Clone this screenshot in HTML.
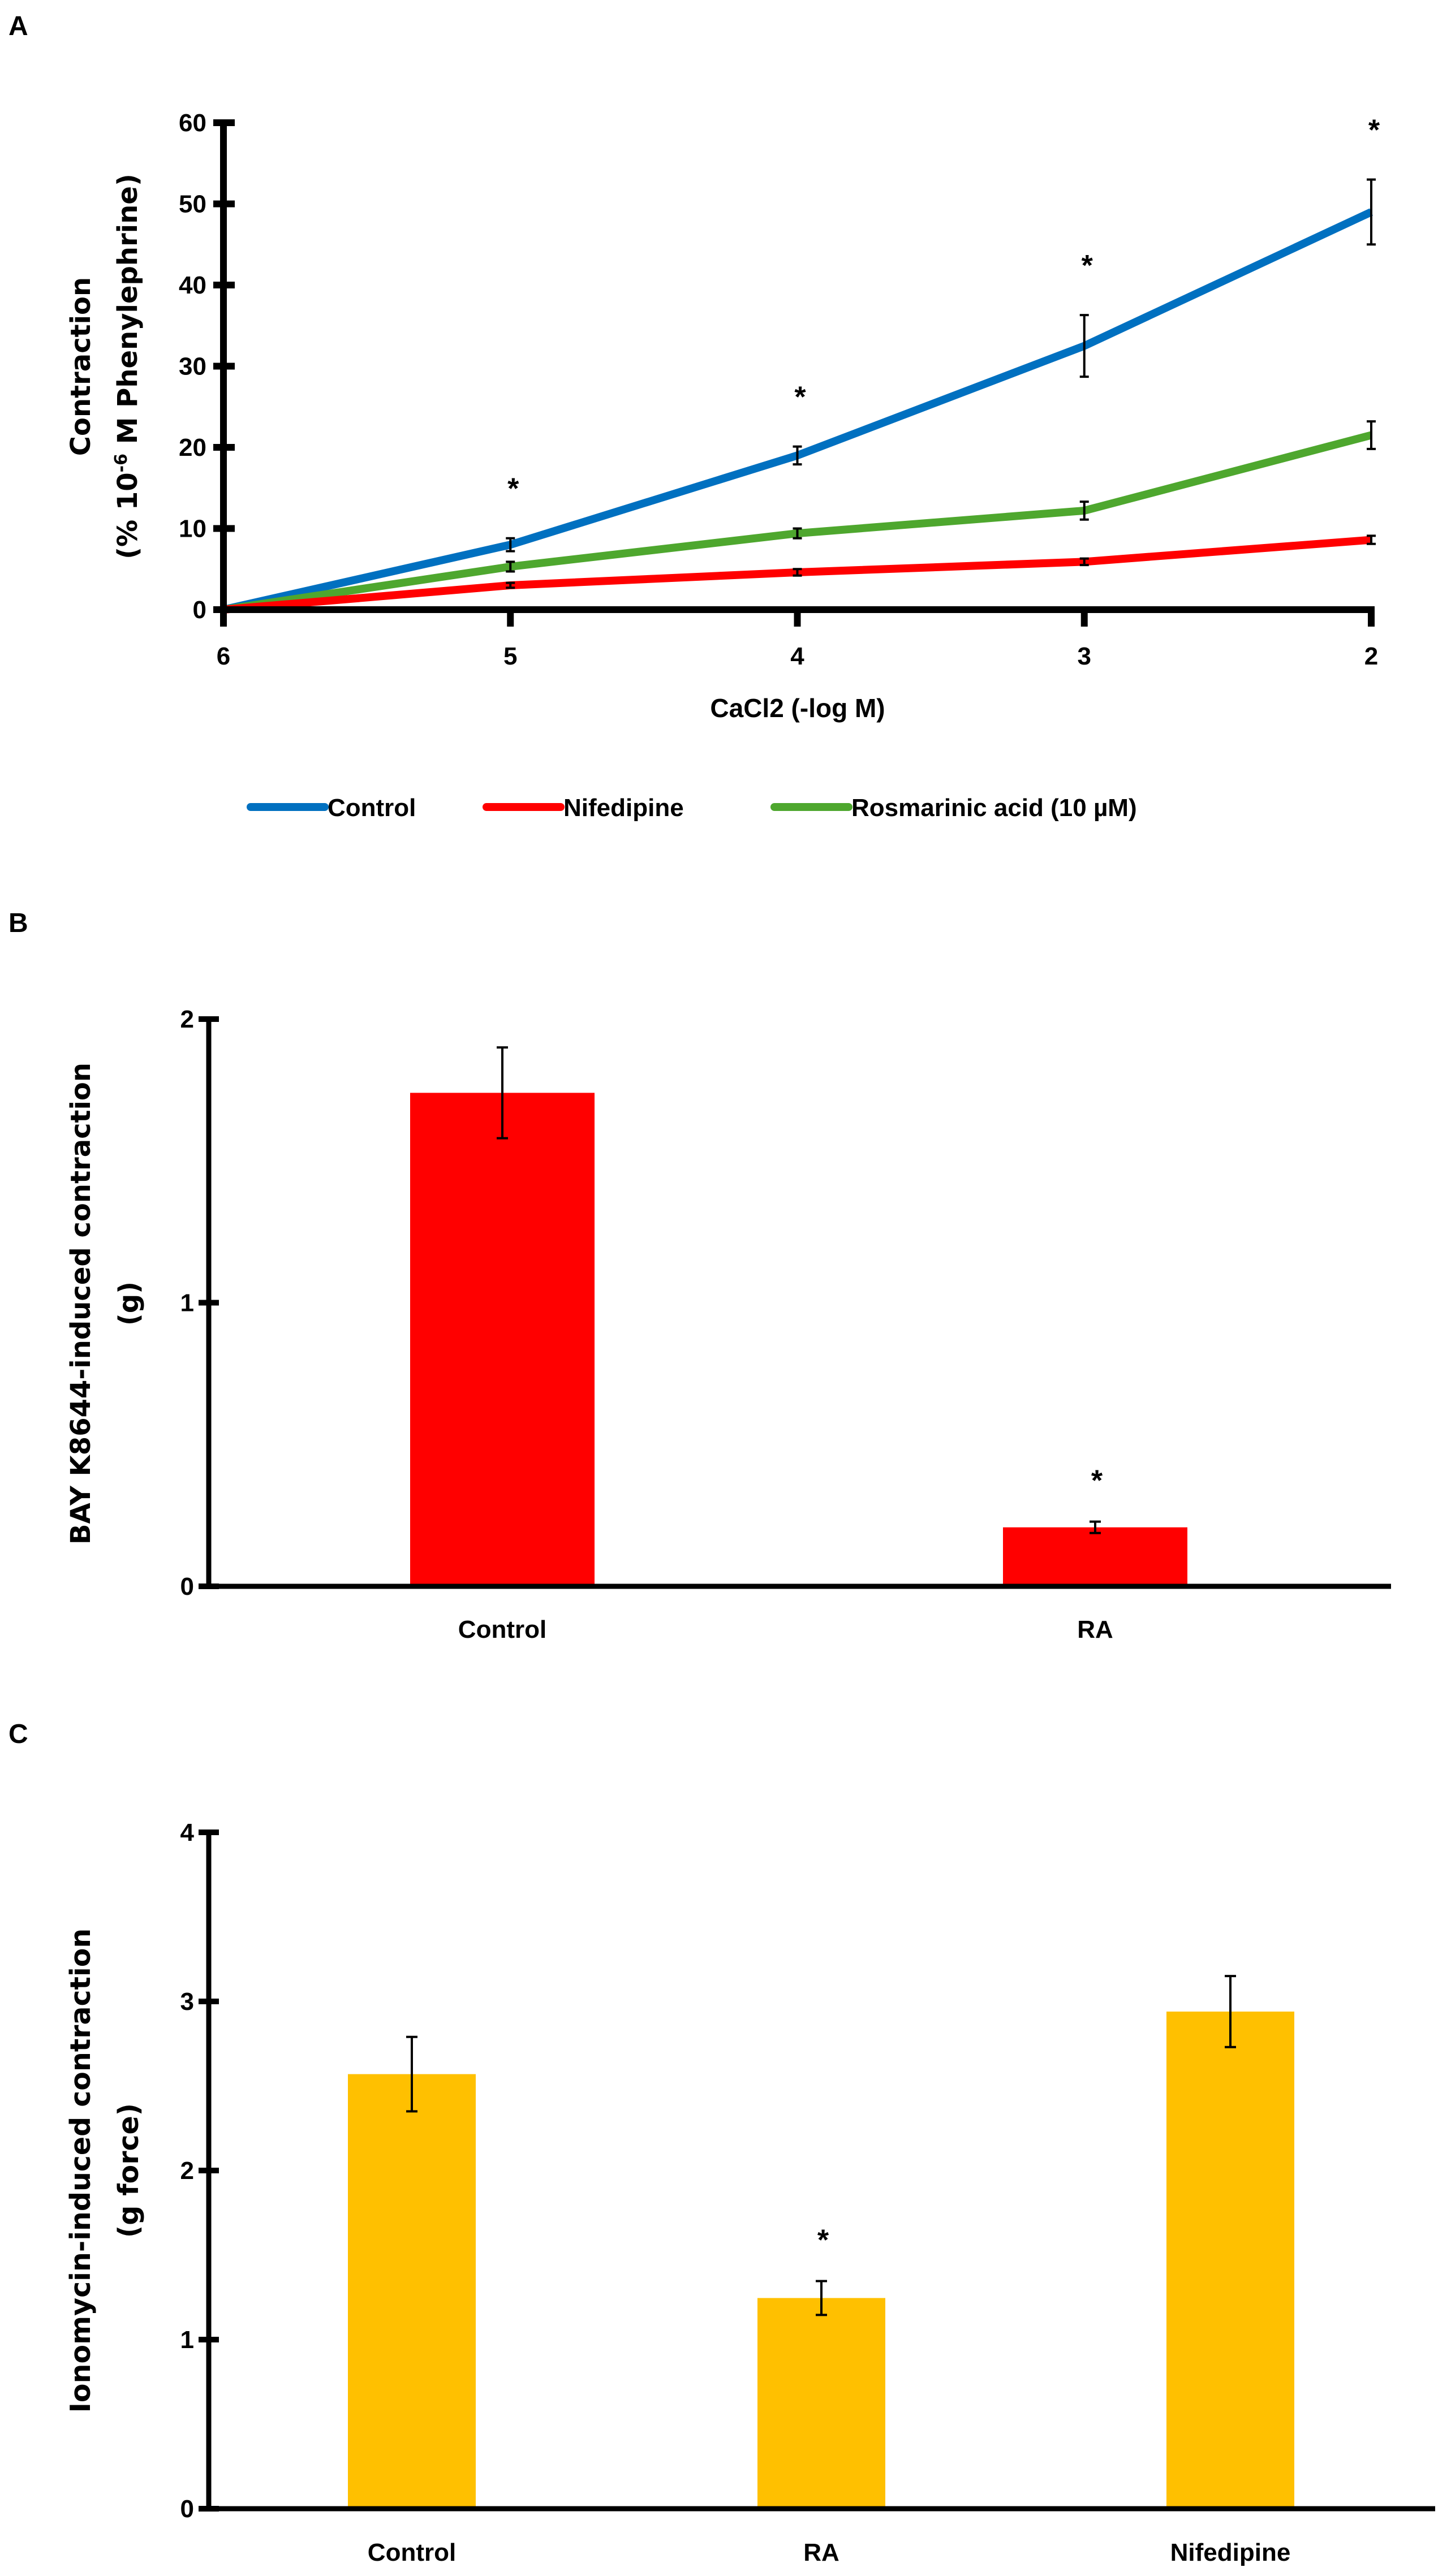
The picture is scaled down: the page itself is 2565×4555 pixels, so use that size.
<!DOCTYPE html>
<html><head><meta charset="utf-8"><style>
html,body{margin:0;padding:0;background:#fff}
svg{display:block}
text{font-family:"Liberation Sans",sans-serif;font-weight:bold;fill:#000}
.yt{font-family:"DejaVu Sans","Liberation Sans",sans-serif}
</style></head><body>
<svg id="fig" width="2565" height="4555" viewBox="0 0 2565 4555" xmlns="http://www.w3.org/2000/svg">
<g id="A"></g>
<g id="B"></g>
<g id="C"></g>
</svg>
<script>
// Panel A data
const aCats = [6,5,4,3,2];
const aTicks = [0,10,20,30,40,50,60];
const aControl = [0,8,19,32.5,49];
const aControlErr = [0,0.8,1.1,3.8,4];
const aNif = [0,3,4.6,5.9,8.6];
const aNifErr = [0,0.3,0.4,0.4,0.5];
const aRA = [0,5.3,9.4,12.2,21.5];
const aRAErr = [0,0.6,0.6,1.1,1.7];
const aStars = [false,true,true,true,true];
// Panel B data
const bCats = ["Control","RA"];
const bVals = [1.74,0.208];
const bErr = [0.16,0.02];
const bStars = [false,true];
const bTicks = [0,1,2];
// Panel C data
const cCats = ["Control","RA","Nifedipine"];
const cVals = [2.57,1.246,2.94];
const cErr = [0.22,0.1,0.21];
const cStars = [false,true,false];
const cTicks = [0,1,2,3,4];

const NS="http://www.w3.org/2000/svg";
function mk(parent,tag,attrs,txt){const e=document.createElementNS(NS,tag);for(const k in attrs)e.setAttribute(k,attrs[k]);if(txt!==undefined)e.textContent=txt;parent.appendChild(e);return e;}

// ---- Panel A
(function(){
const g=document.getElementById('A');
const x0=395,x1=2424,y0=1078,y1=217;
const xs=i=>x0+(x1-x0)*i/(aCats.length-1);
const ys=v=>y0-(y0-y1)*v/60;
let t=mk(g,'text',{x:15,y:62,'font-size':48});t.textContent='A';


const series=[[aControl,aControlErr,'#0070C0','control'],[aRA,aRAErr,'#4EA72E','rosmarinic-acid'],[aNif,aNifErr,'#FF0000','nifedipine']];
series.forEach(s=>{
 const pts=s[0].map((v,i)=>xs(i)+','+ys(v)).join(' ');
 const pl=mk(g,'polyline',{points:pts,fill:'none',stroke:s[2],'stroke-width':14,'stroke-linejoin':'round'});
 
 
 s[0].forEach((v,i)=>{ if(i===0)return;
  const e=s[1][i];const x=xs(i);
  const eb=mk(g,'path',{d:`M${x},${ys(v+e)}V${ys(v-e)}M${x-8},${ys(v+e)}H${x+8}M${x-8},${ys(v-e)}H${x+8}`,stroke:'#000','stroke-width':4,fill:'none'});
  
  
 });
});
aStars.forEach((s,i)=>{ if(!s)return;
 const st=mk(g,'text',{x:xs(i)+5,y:ys(aControl[i]+aControlErr[i])-70,'font-size':52,'text-anchor':'middle'},'*');
 
 
});
const ax=mk(g,'path',{d:`M${x0},${y1-6}V${y0}H${x1}`,stroke:'#000','stroke-width':12,fill:'none'});


aTicks.forEach(v=>{
 mk(g,'rect',{x:x0-18,y:ys(v)-6,width:38,height:12,fill:'#000'});
 const tl=mk(g,'text',{x:x0-30,y:ys(v)+15,'font-size':44,'text-anchor':'end'},v);
 
 
});
aCats.forEach((c,i)=>{
 mk(g,'rect',{x:xs(i)-6,y:y0-6,width:12,height:36,fill:'#000'});
 const tl=mk(g,'text',{x:xs(i),y:1175,'font-size':44,'text-anchor':'middle'},c);
 
 
});
const xt=mk(g,'text',{x:1410,y:1268,'font-size':46,'text-anchor':'middle'},'CaCl2 (-log M)');


const yt=mk(g,'text',{class:'yt','font-size':48,'text-anchor':'middle',transform:'translate(159,648) rotate(-90)'});


mk(yt,'tspan',{x:0,y:0},'Contraction');
const sp=mk(yt,'tspan',{x:0,y:83},'(% 10');
mk(yt,'tspan',{dy:-18,'font-size':30},'-6');
mk(yt,'tspan',{dy:18},' M Phenylephrine)');
const leg=[['Control','#0070C0',443],['Nifedipine','#FF0000',860],['Rosmarinic acid (10 µM)','#4EA72E',1369]];
leg.forEach(l=>{
 const lg=mk(g,'g',{});
 
 
 mk(lg,'line',{x1:l[2],x2:l[2]+131,y1:1427,y2:1427,stroke:l[1],'stroke-width':14,'stroke-linecap':'round'});
 mk(lg,'text',{x:l[2]+136,y:1443,'font-size':44},l[0]);
});
})();

function barPanel(id,label,labY,cats,vals,errs,stars,ticks,color,cfg){
 const g=document.getElementById(id);
 const ys=v=>cfg.y0-(cfg.y0-cfg.yTop)*v/ticks[ticks.length-1];
 const lt=mk(g,'text',{x:15,y:labY,'font-size':48,'font-weight':'normal'},label);
 
 
 cats.forEach((c,i)=>{
  const cx=cfg.centers[i];
  const r=mk(g,'rect',{x:cx-cfg.bw/2,y:ys(vals[i]),width:cfg.bw,height:cfg.y0-ys(vals[i]),fill:color});
  
  
  const e=errs[i],v=vals[i];
  const eb=mk(g,'path',{d:`M${cx},${ys(v+e)}V${ys(v-e)}M${cx-10},${ys(v+e)}H${cx+10}M${cx-10},${ys(v-e)}H${cx+10}`,stroke:'#000','stroke-width':4,fill:'none'});
  
  
  if(stars[i]){
   const st=mk(g,'text',{x:cx+3,y:ys(v+e)-55,'font-size':52,'text-anchor':'middle'},'*');
   
   
  }
  const tl=mk(g,'text',{x:cx,y:cfg.labY,'font-size':44,'text-anchor':'middle'},c);
  
  
 });
 const ax=mk(g,'path',{d:`M${cfg.x0},${cfg.yTop-4}V${cfg.y0}H${cfg.xEnd}`,stroke:'#000','stroke-width':9,fill:'none'});
 
 
 ticks.forEach(v=>{
  mk(g,'rect',{x:cfg.x0-18,y:ys(v)-5,width:36,height:10,fill:'#000'});
  const tl=mk(g,'text',{x:cfg.x0-26,y:ys(v)+15,'font-size':44,'text-anchor':'end'},v);
  
  
 });
 const yt=mk(g,'text',{class:'yt','font-size':cfg.fs,'text-anchor':'middle',transform:`translate(${cfg.ytx},${cfg.yty}) rotate(-90)`});
 
 
 mk(yt,'tspan',{x:0,y:0},cfg.t1);
 mk(yt,'tspan',{x:0,y:cfg.gap},cfg.t2);
}
barPanel('B','B',1648,bCats,bVals,bErr,bStars,bTicks,'#FF0000',
 {x0:369,xEnd:2459,y0:2805,yTop:1802,centers:[888,1936],bw:326,labY:2896,ytx:159,yty:2305,gap:85,fs:48,t1:'BAY K8644-induced contraction',t2:'(g)'});
barPanel('C','C',3082,cCats,cVals,cErr,cStars,cTicks,'#FFC000',
 {x0:369,xEnd:2537,y0:4436,yTop:3240,centers:[728,1452,2175],bw:226,labY:4528,ytx:159,yty:3838,gap:85,fs:49,t1:'Ionomycin-induced contraction',t2:'(g force)'});
</script>
</body></html>
